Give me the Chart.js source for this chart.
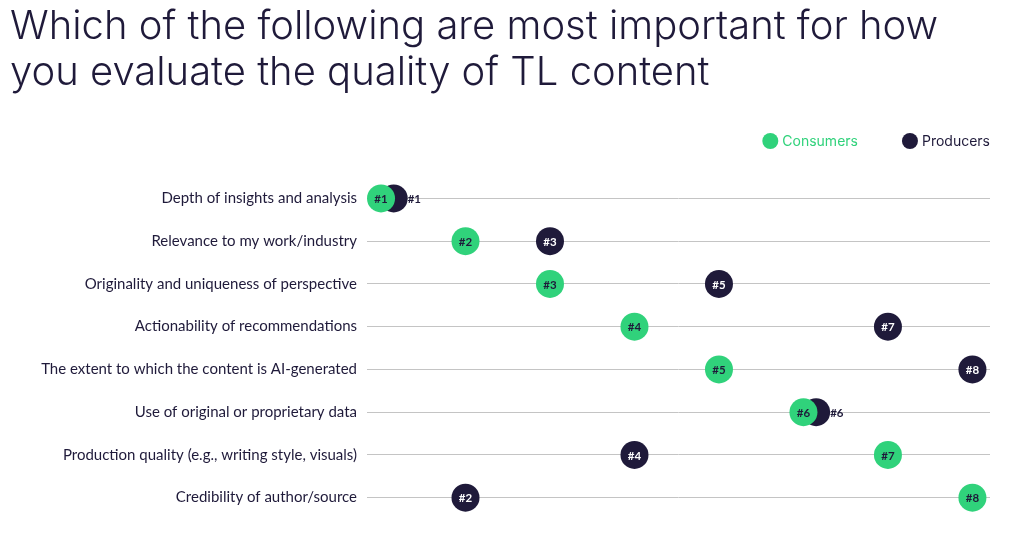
<!DOCTYPE html>
<html>
<head>
  <title>TL content quality</title>
  <script src="https://cdn.jsdelivr.net/npm/chart.js"></script>
  <style>
    html, body { margin: 0; padding: 0; background: #fff; }
    #wrap { position: relative; width: 1024px; height: 534px; }
  </style>
</head>
<body>
  <div id="wrap"><canvas id="rankChart"></canvas></div>

  <script>
    const titleLines = [
      'Which of the following are most important for how',
      'you evaluate the quality of TL content'
    ];
    const categories = [
      'Depth of insights and analysis',
      'Relevance to my work/industry',
      'Originality and uniqueness of perspective',
      'Actionability of recommendations',
      'The extent to which the content is AI-generated',
      'Use of original or proprietary data',
      'Production quality (e.g., writing style, visuals)',
      'Credibility of author/source'
    ];
    const consumerRanks = [1, 2, 3, 4, 5, 6, 7, 8];
    const producerRanks = [1, 3, 5, 7, 8, 6, 4, 2];
    const seriesNames = ['Consumers', 'Producers'];

    const green = '#30d27b';
    const navy = '#1f1a3a';
    const tieShift = 0.15; // nudge producer dot when both ranks match

    function toPoints(ranks, shiftTies) {
      return ranks.map((r, i) => ({
        x: shiftTies && r === consumerRanks[i] ? r + tieShift : r,
        y: categories[i]
      }));
    }

    // numbers inside (or beside) the dots
    const rankLabels = {
      id: 'rankLabels',
      afterDatasetsDraw(chart) {
        const ctx = chart.ctx;
        ctx.save();
        ctx.font = 'bold 11.5px Lato, sans-serif';
        ctx.textBaseline = 'middle';
        [consumerRanks, producerRanks].forEach((ranks, di) => {
          const meta = chart.getDatasetMeta(di);
          meta.data.forEach((pt, i) => {
            const txt = '#' + ranks[i];
            const tie = di === 1 && ranks[i] === consumerRanks[i];
            if (tie) {
              ctx.textAlign = 'left';
              ctx.fillStyle = navy;
              ctx.fillText(txt, pt.x + 14, pt.y + 1);
            } else {
              ctx.textAlign = 'center';
              ctx.fillStyle = di === 0 ? navy : '#ffffff';
              ctx.fillText(txt, pt.x, pt.y + 1);
            }
          });
        });
        ctx.restore();
      }
    };

    // legend drawn at the top right, above the plot
    const dotLegend = {
      id: 'dotLegend',
      afterDraw(chart) {
        const ctx = chart.ctx;
        const y = 141;
        const colors = [green, navy];
        ctx.save();
        ctx.font = '14px Inter, sans-serif';
        ctx.textBaseline = 'middle';
        ctx.textAlign = 'left';
        let right = chart.chartArea.right;
        for (let i = seriesNames.length - 1; i >= 0; i--) {
          const w = ctx.measureText(seriesNames[i]).width;
          const tx = right - w;
          const cx = tx - 12;
          ctx.fillStyle = colors[i];
          ctx.beginPath();
          ctx.arc(cx, y, 8, 0, Math.PI * 2);
          ctx.fill();
          ctx.fillText(seriesNames[i], tx, y + 1);
          right = cx - 8 - 44;
        }
        ctx.restore();
      }
    };

    new Chart(document.getElementById('rankChart'), {
      type: 'line',
      data: {
        labels: categories,
        datasets: [
          {
            label: seriesNames[0],
            data: toPoints(consumerRanks, false),
            showLine: false,
            pointRadius: 14,
            pointBackgroundColor: green,
            pointBorderWidth: 0,
            backgroundColor: green,
            borderColor: green
          },
          {
            label: seriesNames[1],
            data: toPoints(producerRanks, true),
            showLine: false,
            pointRadius: 14,
            pointBackgroundColor: navy,
            pointBorderWidth: 0,
            backgroundColor: navy,
            borderColor: navy
          }
        ]
      },
      options: {
        responsive: true,
        maintainAspectRatio: false,
        animation: false,
        events: [],
        indexAxis: 'y',
        clip: false,
        layout: { padding: { left: 10, right: 34, top: 0, bottom: 15 } },
        scales: {
          x: {
            type: 'linear',
            min: 0.834,
            max: 8.208,
            display: false
          },
          y: {
            type: 'category',
            offset: true,
            border: { display: false },
            grid: { offset: false, drawTicks: false, color: '#c4c4c4', lineWidth: 1 },
            ticks: {
              padding: 10,
              color: navy,
              font: { family: 'Lato, sans-serif', size: 15 }
            },
            afterFit(s) {
              s.width = 357;
              s.paddingTop = 0;
              s.paddingBottom = 0;
            }
          }
        },
        plugins: {
          title: {
            display: true,
            text: titleLines,
            align: 'start',
            color: navy,
            font: { family: 'Inter, sans-serif', size: 40, weight: 300, lineHeight: 1.15 },
            padding: { top: 4, bottom: 81 }
          },
          legend: { display: false },
          tooltip: { enabled: false }
        }
      },
      plugins: [rankLabels, dotLegend]
    });
  </script>
</body>
</html>
